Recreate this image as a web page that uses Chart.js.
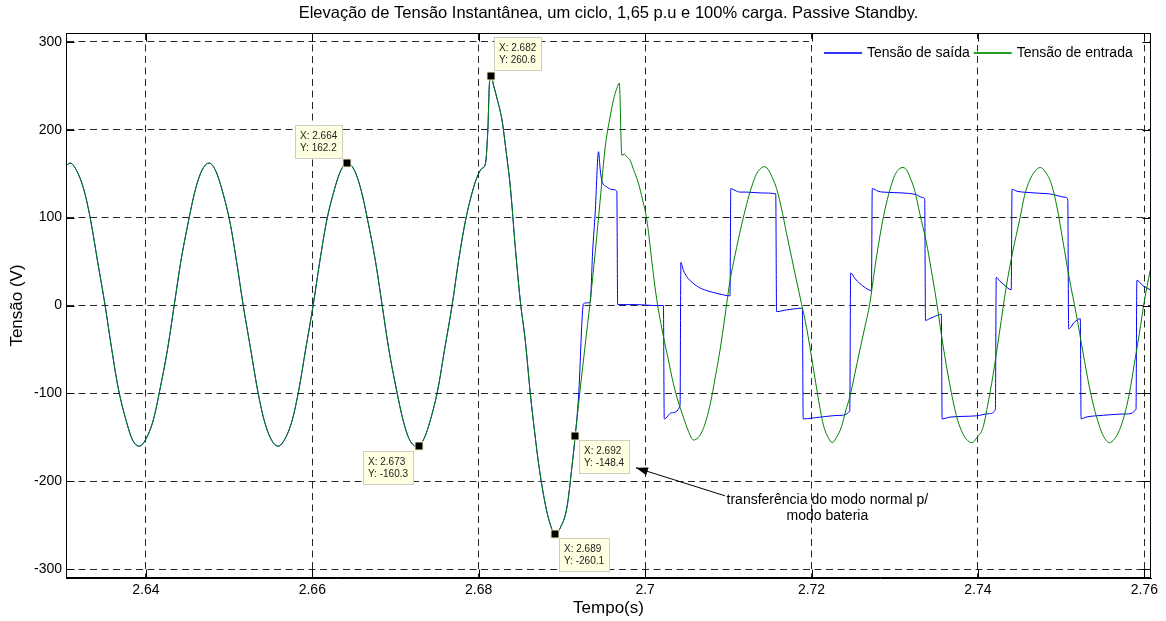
<!DOCTYPE html>
<html>
<head>
<meta charset="utf-8">
<script src="https://cdn.jsdelivr.net/npm/chart.js@4.4.0/dist/chart.umd.min.js"></script>
<style>
  html, body { margin: 0; padding: 0; background: #fff; }
</style>
</head>
<body>
<canvas id="grafico" width="1166" height="621"></canvas>
<script>
var TITULO = 'Elevação de Tensão Instantânea, um ciclo, 1,65 p.u e 100% carga. Passive Standby.';
var ticksX = [2.64, 2.66, 2.68, 2.7, 2.72, 2.74, 2.76];
var ticksY = [-300, -200, -100, 0, 100, 200, 300];

// trecho comum (antes da transferência) - as duas curvas praticamente iguais
var tempoComum = [2.6304, 2.6309, 2.6317, 2.6326, 2.6334, 2.6342, 2.6351, 2.6359, 2.6367, 2.6376, 2.6384, 2.6392,
  2.6400, 2.6409, 2.6417, 2.6426, 2.6434, 2.6442, 2.6451, 2.6459, 2.6467, 2.6476,
  2.6484, 2.6492, 2.6501, 2.6509, 2.6517, 2.6526, 2.6534, 2.6542, 2.6551, 2.6559,
  2.6567, 2.6576, 2.6584, 2.6592, 2.6601, 2.6609, 2.6617, 2.6626, 2.6634, 2.6642,
  2.6651, 2.6659, 2.6667, 2.6676, 2.6684, 2.6692, 2.6701, 2.6709, 2.6717, 2.6726,
  2.6734, 2.6742, 2.6751, 2.6759, 2.6768, 2.6776, 2.6784, 2.6792, 2.6798, 2.6804, 2.6808,
  2.6811, 2.6813, 2.6815, 2.6818, 2.6823, 2.6828, 2.6833, 2.6838, 2.6844, 2.6850, 2.6856,
  2.6862, 2.6867, 2.6872, 2.6880, 2.6886, 2.6892, 2.6898, 2.6906, 2.6912, 2.6916];
var tensaoComum = [159, 162, 153, 130, 95, 50, 0, -50, -95, -130, -153, -160,
  -152, -130, -95, -50, 0, 50, 95, 130, 153, 162,
  153, 130, 95, 50, 0, -50, -95, -130, -153, -160,
  -152, -130, -95, -50, 0, 50, 95, 130, 153, 162.2,
  153, 130, 95, 50, 0, -50, -95, -130, -153, -160.3,
  -152, -130, -95, -50, 0, 52, 96, 128, 146, 156, 161,
  200, 254, 260.6, 250, 232, 211, 175, 135, 66, 5, -40,
  -100, -142, -180, -226, -249, -261, -253, -230, -184, -148.4];

// tensão de saída depois da transferência (modo bateria)
var tempoSaidaBat = [2.6920, 2.6926, 2.6930, 2.6934, 2.6937, 2.6940, 2.6944, 2.6946, 2.6948, 2.6954, 2.6960, 2.6966,
  2.6967, 2.6990, 2.7010, 2.7022, 2.7023, 2.7032, 2.7042, 2.7043, 2.7046, 2.7050, 2.7054, 2.7064, 2.7074, 2.7090, 2.7102,
  2.7103, 2.7108, 2.7114, 2.7122, 2.7140, 2.7157, 2.7158, 2.7170, 2.7178, 2.7189, 2.7190, 2.7210, 2.7234, 2.7246,
  2.7247, 2.7252, 2.7258, 2.7265, 2.7272, 2.7273, 2.7280, 2.7286, 2.7310, 2.7326, 2.7333, 2.7336,
  2.7337, 2.7342, 2.7348, 2.7356, 2.7357, 2.7366, 2.7398, 2.7414, 2.7421, 2.7422, 2.7426, 2.7430, 2.7440,
  2.7441, 2.7447, 2.7454, 2.7486, 2.7506, 2.7508, 2.7509, 2.7516, 2.7523, 2.7524, 2.7530, 2.7542, 2.7578, 2.7590,
  2.7591, 2.7598, 2.7607];
var tensaoSaidaBat = [-104, 2, 3, 4, 63, 105, 175, 155, 142, 135, 132, 130,
  1, 1, 0, 0, -129, -122, -114, 49, 40, 33, 28.5, 21, 17, 13, 11,
  133, 131, 129, 129, 128, 127, -7, -5, -4, -3, -129, -127, -125, -120,
  37, 31, 25, 20, 17, 133, 130, 129, 128, 126, 123, 121,
  -17, -15, -12.5, -10, -129, -127, -125.5, -123, -118, 32, 28, 24.7, 18,
  132, 130, 129, 127, 123, 120, -26.6, -19, -15, -129, -127, -125.5, -123.4, -118,
  28.5, 22.8, 18];

// tensão de entrada depois da transferência
var tempoEntradaBat = [2.6922, 2.6928, 2.6934, 2.6940, 2.6946, 2.6952, 2.6958, 2.6962, 2.6966, 2.6969, 2.6972, 2.6975,
  2.6978, 2.6982, 2.6986, 2.6992, 2.6997, 2.7002, 2.7008, 2.7012, 2.7016, 2.7022, 2.7028, 2.7034, 2.7040, 2.7046,
  2.7052, 2.7058, 2.7064, 2.7070, 2.7075, 2.7080, 2.7085, 2.7090, 2.7096, 2.7102, 2.7108, 2.7116, 2.7122, 2.7128,
  2.7134, 2.7139, 2.7144, 2.7149, 2.7154, 2.7158, 2.7164, 2.7170, 2.7176, 2.7182, 2.7188, 2.7194, 2.7202, 2.7208,
  2.7214, 2.7220, 2.7225, 2.7230, 2.7236, 2.7241, 2.7246, 2.7252, 2.7258, 2.7264, 2.7270, 2.7276, 2.7282, 2.7288,
  2.7294, 2.7300, 2.7305, 2.7310, 2.7315, 2.7320, 2.7324, 2.7330, 2.7338, 2.7344, 2.7350, 2.7358, 2.7366, 2.7374,
  2.7380, 2.7386, 2.7393, 2.7399, 2.7406, 2.7412, 2.7418, 2.7426, 2.7434, 2.7442, 2.7450, 2.7456, 2.7462, 2.7468,
  2.7475, 2.7481, 2.7488, 2.7495, 2.7502, 2.7510, 2.7518, 2.7526, 2.7534, 2.7540, 2.7544, 2.7550, 2.7558, 2.7564,
  2.7570, 2.7576, 2.7582, 2.7588, 2.7594, 2.7600, 2.7607];
var tensaoEntradaBat = [-95, -45, 5, 60, 120, 180, 215, 234, 247, 253, 171, 172,
  169, 165, 155, 139, 120, 98, 51, 20, -5, -35, -62, -89, -110, -127,
  -143, -153, -150, -140, -125, -104, -78, -51, -12, 28, 57, 92, 115, 135,
  150, 156, 158, 153, 143, 133, 110, 82, 55, 28, 2, -25, -70, -105,
  -135, -150, -156, -150, -138, -120, -104, -78, -51, -25, 2, 42, 78, 108,
  131, 148, 155, 157, 153, 142, 131, 105, 72, 40, 6, -45, -89, -125,
  -142, -152, -156, -150, -139, -112, -80, -30, 21, 62, 97, 125, 142, 152,
  157, 152, 139, 112, 74, 30, -9, -52, -93, -118, -131, -147, -156, -152,
  -142, -125, -100, -66, -32, 5, 40];

// data tips (posição do marcador e texto mostrado)
var dicaTempo = [2.6815, 2.6642, 2.6728, 2.6892, 2.6916];
var dicaTensao = [260.6, 162.2, -160.3, -260.1, -148.4];
var dicaTextoX = ['2.682', '2.664', '2.673', '2.689', '2.692'];
var dicaTextoY = ['260.6', '162.2', '-160.3', '-260.1', '-148.4'];

var NOTA = ['transferência do modo normal p/', 'modo bateria'];
var LEGENDA = ['Tensão de saída', 'Tensão de entrada'];

var FONTE = "'Liberation Sans', Arial, Helvetica, sans-serif";
Chart.defaults.font.family = FONTE;
Chart.defaults.color = '#000';

function pontos(tempo, tensao) {
  return tempo.map(function (t, i) { return { x: t, y: tensao[i] }; });
}

var tempoSaida = tempoComum.concat(tempoSaidaBat);
var tensaoSaida = tensaoComum.concat(tensaoSaidaBat);
var tempoEntrada = tempoComum.concat(tempoEntradaBat);
var tensaoEntrada = tensaoComum.concat(tensaoEntradaBat);

var extras = {
  id: 'extras',
  afterDraw: function (chart) {
    var c = chart.ctx, a = chart.chartArea, sx = chart.scales.x, sy = chart.scales.y;
    var L = Math.round(a.left) + 0.5, R = Math.round(a.right) - 0.5;
    var T = Math.round(a.top) + 0.5, B = Math.round(a.bottom) - 0.5;
    c.save();

    // legenda (sem caixa; só esconde a grade horizontal de 300 por baixo)
    var g300 = Math.round(sy.getPixelForValue(300));
    c.fillStyle = '#fff';
    c.fillRect(809, g300 - 3, R - 810, 6);
    c.font = '14px ' + FONTE;
    c.textBaseline = 'middle';
    c.textAlign = 'left';
    var ly = 53, lx = 824;
    var cores = ['#3333ff', '#20a020'];
    for (var k = 0; k < 2; k++) {
      c.strokeStyle = cores[k];
      c.lineWidth = 2;
      c.beginPath();
      c.moveTo(lx, ly);
      c.lineTo(lx + 38, ly);
      c.stroke();
      c.fillStyle = '#000';
      c.fillText(LEGENDA[k], lx + 43, ly);
      lx += 43 + c.measureText(LEGENDA[k]).width + 4;
    }

    // caixa e ticks para dentro
    c.strokeStyle = '#000';
    c.lineWidth = 1;
    c.strokeRect(L, T, R - L, B - T);
    c.beginPath();
    ticksX.forEach(function (v) {
      var px = Math.round(sx.getPixelForValue(v)) + 0.5;
      c.moveTo(px, B); c.lineTo(px, B - 8);
      c.moveTo(px, T); c.lineTo(px, T + 8);
    });
    ticksY.forEach(function (v) {
      var py = Math.round(sy.getPixelForValue(v)) + 0.5;
      c.moveTo(L, py); c.lineTo(L + 8, py);
      c.moveTo(R, py); c.lineTo(R - 8, py);
    });
    c.stroke();

    // seta e texto da transferência
    var ax = sx.getPixelForValue(2.6989), ay = sy.getPixelForValue(-184.6);
    var bx = sx.getPixelForValue(2.7096), by = sy.getPixelForValue(-216.5);
    var ang = Math.atan2(ay - by, ax - bx);
    c.beginPath();
    c.moveTo(bx, by); c.lineTo(ax, ay);
    c.stroke();
    c.fillStyle = '#000';
    c.beginPath();
    c.moveTo(ax, ay);
    c.lineTo(ax - 12 * Math.cos(ang) + 4 * Math.sin(ang), ay - 12 * Math.sin(ang) - 4 * Math.cos(ang));
    c.lineTo(ax - 12 * Math.cos(ang) - 4 * Math.sin(ang), ay - 12 * Math.sin(ang) + 4 * Math.cos(ang));
    c.closePath();
    c.fill();
    c.font = '14px ' + FONTE;
    c.textAlign = 'center';
    c.textBaseline = 'middle';
    var nx = sx.getPixelForValue(2.7219);
    c.fillText(NOTA[0], nx, sy.getPixelForValue(-221));
    c.fillText(NOTA[1], nx, sy.getPixelForValue(-239.5));

    // data tips
    var cantos = ['ne', 'nw', 'sw', 'se', 'se'];
    c.font = '10px ' + FONTE;
    c.textAlign = 'left';
    for (var i = 0; i < dicaTempo.length; i++) {
      var mx = Math.round(sx.getPixelForValue(dicaTempo[i]));
      var my = Math.round(sy.getPixelForValue(dicaTensao[i]));
      var l1 = 'X: ' + dicaTextoX[i], l2 = 'Y: ' + dicaTextoY[i];
      var w = Math.round(Math.max(c.measureText(l1).width, c.measureText(l2).width) + 11);
      var h = 34, bx0, by0;
      if (cantos[i] === 'ne') { bx0 = mx + 3; by0 = my - 5 - h; }
      else if (cantos[i] === 'nw') { bx0 = mx - 4 - w; by0 = my - 4 - h; }
      else if (cantos[i] === 'sw') { bx0 = mx - 5 - w; by0 = my + 5; }
      else { bx0 = mx + 4; by0 = my + 4; }
      c.fillStyle = '#ffffe1';
      c.fillRect(bx0, by0, w, h);
      c.strokeStyle = '#cdcdc0';
      c.strokeRect(bx0 + 0.5, by0 + 0.5, w - 1, h - 1);
      c.fillStyle = '#222';
      c.fillText(l1, bx0 + 5, by0 + 11);
      c.fillText(l2, bx0 + 5, by0 + 23.5);
      c.fillStyle = '#f4f0c0';
      c.fillRect(mx - 4.5, my - 4.5, 9, 9);
      c.fillStyle = '#000';
      c.fillRect(mx - 3.5, my - 3.5, 7, 7);
    }
    c.restore();
  }
};

var ctx = document.getElementById('grafico').getContext('2d');
var grafico = new Chart(ctx, {
  type: 'line',
  data: {
    datasets: [
      {
        label: LEGENDA[0],
        data: pontos(tempoSaida, tensaoSaida),
        borderColor: '#0000ff',
        borderWidth: 1,
        pointRadius: 0,
        cubicInterpolationMode: 'monotone',
        order: 1
      },
      {
        label: LEGENDA[1],
        data: pontos(tempoEntrada, tensaoEntrada),
        borderColor: '#008000',
        borderWidth: 1,
        pointRadius: 0,
        cubicInterpolationMode: 'monotone',
        order: 0
      }
    ]
  },
  options: {
    responsive: false,
    animation: false,
    events: [],
    layout: { padding: { left: 0, right: 15, top: 0, bottom: 0 } },
    plugins: {
      legend: { display: false },
      tooltip: { enabled: false },
      title: {
        display: true,
        text: TITULO,
        fullSize: false,
        color: '#000',
        font: { size: 16.5, weight: 'normal' },
        padding: { top: 4, bottom: 9.2 }
      }
    },
    scales: {
      x: {
        type: 'linear',
        min: 2.6304,
        max: 2.7608,
        afterBuildTicks: function (s) { s.ticks = ticksX.map(function (v) { return { value: v }; }); },
        afterFit: function (s) { s.height = 43; },
        ticks: {
          font: { size: 14 },
          color: '#000',
          padding: 4,
          maxRotation: 0,
          callback: function (v) { return String(Math.round(v * 100) / 100); }
        },
        grid: { color: 'rgba(0,0,0,0.85)', lineWidth: 1, drawTicks: false },
        border: { display: true, color: '#000', dash: [7, 4.5] },
        title: { display: true, text: 'Tempo(s)', font: { size: 17 }, color: '#000', padding: { top: 0, bottom: 2 } }
      },
      y: {
        type: 'linear',
        min: -310,
        max: 310,
        afterBuildTicks: function (s) { s.ticks = ticksY.map(function (v) { return { value: v }; }); },
        afterFit: function (s) { s.width = 66; },
        ticks: {
          font: { size: 14 },
          color: '#000',
          padding: 4,
          callback: function (v) { return String(v); }
        },
        grid: { color: 'rgba(0,0,0,0.85)', lineWidth: 1, drawTicks: false },
        border: { display: true, color: '#000', dash: [7, 4.5] },
        title: { display: true, text: 'Tensão (V)', font: { size: 17 }, color: '#000', padding: { top: 7, bottom: 0 } }
      }
    }
  },
  plugins: [extras]
});
</script>
</body>
</html>
